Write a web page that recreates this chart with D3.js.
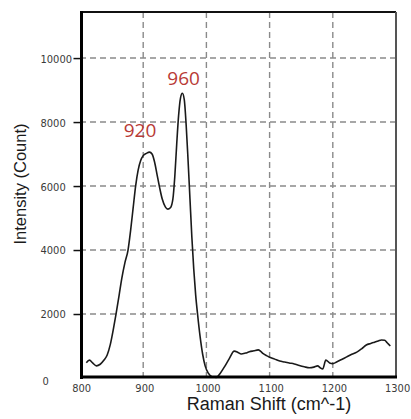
<!DOCTYPE html>
<html>
<head>
<meta charset="UTF-8">
<title>Raman spectrum</title>
<script src="https://d3js.org/d3.v7.min.js"></script>
<style>
  body { margin: 0; background: #fff; }
  svg { display: block; }
</style>
</head>
<body>
<svg id="chart" width="411" height="419"></svg>
<script>
// spectrum: Raman shift (cm^-1) and intensity (counts)
var shift = [810, 815, 820, 826, 832, 838, 843, 848, 853, 857, 862, 866, 871, 876, 880, 884, 888, 892, 896, 900,
             905, 910, 914, 918, 922, 926, 930, 935, 939, 943, 947, 950, 953, 956, 959, 962, 965, 968, 971, 974,
             977, 980, 983, 986, 990, 994, 998, 1003, 1009, 1016, 1022, 1028, 1036, 1044, 1050, 1055, 1062, 1068,
             1075, 1082, 1086, 1090, 1095, 1100, 1108, 1116, 1124, 1131, 1139, 1147, 1155, 1163, 1170, 1176, 1180,
             1184, 1189, 1195, 1200, 1206, 1214, 1222, 1230, 1238, 1246, 1253, 1260, 1266, 1272, 1277, 1282, 1286, 1291];
var counts = [480, 560, 470, 380, 430, 560, 720, 1050, 1550, 2000, 2600, 3100, 3600, 4000, 4600, 5300, 6000, 6500, 6800, 6950,
              7020, 7060, 7000, 6750, 6350, 5950, 5600, 5350, 5280, 5320, 5600, 6300, 7300, 8200, 8750, 8900, 8700, 7900, 6800, 5600,
              4400, 3400, 2600, 2000, 1300, 750, 380, 150, 40, 20, 150, 330, 600, 840, 800, 750, 780, 820, 850, 880, 830, 760, 700, 650,
              590, 530, 500, 470, 440, 390, 350, 320, 340, 380, 320,
              280, 560, 470, 450, 500, 580, 660, 740, 810, 920, 1030, 1080, 1120, 1160, 1190, 1180, 1100, 1000];

var xTicks = [800, 900, 1000, 1100, 1200, 1300];
var yTicks = [0, 2000, 4000, 6000, 8000, 10000];
var peaks = [{ label: "920", x: 895, y: 7530 }, { label: "960", x: 964, y: 9160 }];

var svg = d3.select("#chart");
var plotL = 80, plotR = 396, plotT = 12, plotB = 378;

var x = d3.scaleLinear().domain([800, 1300]).range([plotL, plotR]);
var y = d3.scaleLinear().domain([0, 11440]).range([plotB, plotT]);

var tickFont = "'Liberation Sans Narrow', 'DejaVu Sans Condensed', sans-serif";

// dashed grid
svg.append("g").selectAll("line")
  .data(xTicks.filter(function (d) { return d > 800 && d < 1300; }))
  .enter().append("line")
    .attr("x1", function (d) { return x(d); })
    .attr("x2", function (d) { return x(d); })
    .attr("y1", plotT)
    .attr("y2", plotB)
    .style("stroke", "#8a8a8a")
    .style("stroke-width", 1.4)
    .style("stroke-dasharray", "6,4");

svg.append("g").selectAll("line")
  .data(yTicks.filter(function (d) { return d > 0; }))
  .enter().append("line")
    .attr("x1", plotL)
    .attr("x2", plotR)
    .attr("y1", function (d) { return y(d); })
    .attr("y2", function (d) { return y(d); })
    .style("stroke", "#8a8a8a")
    .style("stroke-width", 1.4)
    .style("stroke-dasharray", "6,4");

// frame: top and right
svg.append("line")
  .attr("x1", plotL).attr("x2", plotR).attr("y1", plotT).attr("y2", plotT)
  .style("stroke", "#111").style("stroke-width", 2);
svg.append("line")
  .attr("x1", plotR).attr("x2", plotR).attr("y1", plotT).attr("y2", plotB)
  .style("stroke", "#555").style("stroke-width", 2);

// spectrum
var line = d3.line()
  .x(function (d, i) { return x(shift[i]); })
  .y(function (d) { return y(d); })
  .curve(d3.curveMonotoneX);

svg.append("path")
  .datum(counts)
  .attr("d", line)
  .style("fill", "none")
  .style("stroke", "#1a1a1a")
  .style("stroke-width", 1.6);

// y axis
var yAxis = d3.axisLeft(y).tickValues(yTicks).tickSize(8).tickFormat(d3.format("d"));
var gy = svg.append("g")
  .attr("transform", "translate(" + (plotL + 1.5) + ",0)")
  .call(yAxis);
gy.select(".domain").remove();
gy.selectAll(".tick line").style("stroke", "#111").style("stroke-width", 1.5);
gy.selectAll(".tick line").filter(function (d) { return d === 0; }).remove();
gy.selectAll(".tick text")
  .attr("x", -41)
  .attr("dy", "0.36em")
  .style("text-anchor", "start")
  .style("font-family", tickFont)
  .style("font-size", "11px")
  .style("fill", "#3a3a3a");
gy.selectAll(".tick").filter(function (d) { return d === 0; }).select("text")
  .attr("x", -39).attr("dy", "0.6em");

// x axis
var xAxis = d3.axisBottom(x).tickValues(xTicks).tickSize(0).tickPadding(7).tickFormat(d3.format("d"));
var gx = svg.append("g")
  .attr("transform", "translate(0," + (plotB - 1) + ")")
  .call(xAxis);
gx.select(".domain").remove();
gx.selectAll(".tick text")
  .attr("dx", "0.1em")
  .style("font-family", tickFont)
  .style("font-size", "11px")
  .style("fill", "#3a3a3a");

// heavy axis lines
svg.append("line")
  .attr("x1", plotL + 1.5).attr("x2", plotL + 1.5).attr("y1", plotT - 1).attr("y2", plotB + 1)
  .style("stroke", "#000").style("stroke-width", 3);
svg.append("line")
  .attr("x1", plotL).attr("x2", plotR + 1).attr("y1", plotB - 1).attr("y2", plotB - 1)
  .style("stroke", "#000").style("stroke-width", 3);

// peak labels
svg.selectAll(".peak")
  .data(peaks)
  .enter().append("text")
    .attr("class", "peak")
    .attr("x", function (d) { return x(d.x); })
    .attr("y", function (d) { return y(d.y); })
    .style("text-anchor", "middle")
    .style("font-family", "'Open Sans', sans-serif")
    .style("font-size", "19px")
    .style("fill", "#b83a36")
    .text(function (d) { return d.label; });

// axis titles
svg.append("text")
  .attr("x", 269)
  .attr("y", 410)
  .style("text-anchor", "middle")
  .style("font-family", "'Liberation Sans', Arial, sans-serif")
  .style("font-size", "18px")
  .style("fill", "#1a1a1a")
  .text("Raman Shift (cm^-1)");

svg.append("text")
  .attr("transform", "translate(26,184) rotate(-90)")
  .style("text-anchor", "middle")
  .style("font-family", "'Liberation Sans', Arial, sans-serif")
  .style("font-size", "16.5px")
  .style("fill", "#1a1a1a")
  .text("Intensity (Count)");
</script>
</body>
</html>
